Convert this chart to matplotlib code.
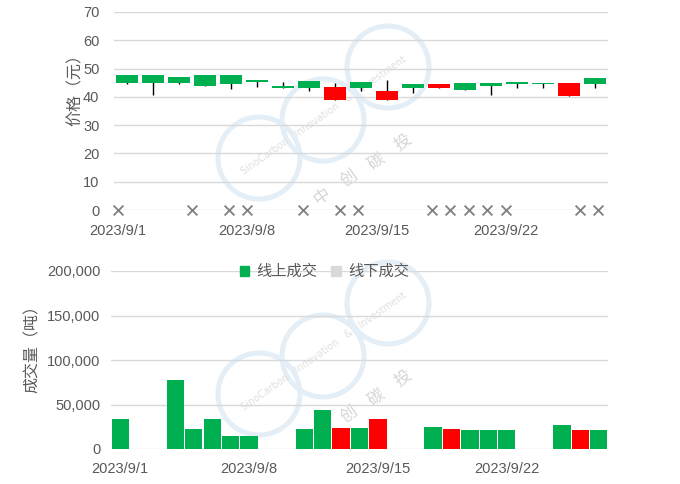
import matplotlib
matplotlib.use('Agg')
import matplotlib.pyplot as plt
import numpy as np
import pandas as pd
from matplotlib.patches import Circle, Patch
from matplotlib.ticker import FuncFormatter, MultipleLocator

plt.rcParams['font.family'] = ['Liberation Sans', 'Noto Sans CJK SC', 'DejaVu Sans']

# ---------------- data ----------------
trade_dates = ['2023-09-01', '2023-09-04', '2023-09-05', '2023-09-06', '2023-09-07',
               '2023-09-08', '2023-09-11', '2023-09-12', '2023-09-13', '2023-09-14',
               '2023-09-15', '2023-09-18', '2023-09-19', '2023-09-20', '2023-09-21',
               '2023-09-22', '2023-09-25', '2023-09-26', '2023-09-27']
open_px = [44.9, 44.9, 44.9, 44.0, 44.4, 45.1, 43.3, 43.2, 43.6, 43.0,
           42.2, 43.0, 44.6, 42.6, 43.7, 44.4, 44.4, 44.9, 44.4]
close_px = [47.7, 47.7, 47.0, 47.7, 47.7, 46.0, 44.0, 45.6, 38.9, 45.3,
            38.9, 44.6, 43.0, 44.9, 44.9, 45.3, 44.9, 40.2, 46.7]
high_px = [47.7, 47.7, 47.0, 47.7, 47.7, 46.0, 45.3, 45.6, 44.9, 45.3,
           46.0, 44.6, 44.6, 44.9, 44.9, 45.3, 44.9, 44.9, 46.7]
low_px = [44.6, 40.6, 44.6, 44.0, 42.9, 43.6, 43.3, 42.2, 38.9, 42.2,
          38.9, 41.3, 43.0, 42.6, 40.6, 43.0, 43.3, 40.2, 43.3]
online_vol = [33700, 77500, 22500, 33700, 14600, 14600, 22500, 43800, 23600, 23600,
              33700, 24700, 22500, 21300, 21300, 21300, 27000, 21300, 21300]
offline_vol = [0] * 19
no_trade_dates = ['2023-09-01', '2023-09-05', '2023-09-07', '2023-09-08', '2023-09-11',
                  '2023-09-13', '2023-09-14', '2023-09-18', '2023-09-19', '2023-09-20',
                  '2023-09-21', '2023-09-22', '2023-09-26', '2023-09-27']
tick_dates = ['2023-09-01', '2023-09-08', '2023-09-15', '2023-09-22']
tick_labels = ['2023/9/1', '2023/9/8', '2023/9/15', '2023/9/22']
start_date = '2023-09-01'
end_date = '2023-09-27'

# ---------------- helpers ----------------
W, H = 680, 484
def fx(px): return px / W
def fy(py): return 1 - py / H

t0 = pd.Timestamp(start_date)
def doff(lst): return np.array([(pd.Timestamp(d) - t0).days for d in lst])

trade_off = doff(trade_dates)
nt_off = doff(no_trade_dates)
tick_off = doff(tick_dates)
n_days = (pd.Timestamp(end_date) - t0).days

GREEN = '#00b050'
RED = '#ff0000'
GRID = '#d9d9d9'
TXT = '#595959'

o = np.array(open_px); c = np.array(close_px)
colors = [RED if cc < oo else GREEN for oo, cc in zip(o, c)]

fig = plt.figure(figsize=(W / 100, H / 100), dpi=100)
fig.patch.set_facecolor('white')

# ---------------- watermark ----------------
def watermark(dy):
    for (cx, cy) in [(259, 158), (323, 120), (388, 67)]:
        circ = Circle((cx / 100, (H - cy - dy) / 100), 0.41, transform=fig.dpi_scale_trans,
                      fill=False, ec='#e4eef7', lw=3.6, zorder=-2)
        fig.patches.append(circ)
    fig.text(fx(324), fy(115 + dy), 'SinoCarbon   Innovation   &   Investment', rotation=35,
             ha='center', va='center', fontsize=7, color='#e0e0e0', zorder=-1,
             family=['DejaVu Sans'])
    for i, ch in enumerate('中创碳投'):
        fig.text(fx(322 + i * 27), fy(197 + dy - i * 18), ch, rotation=35,
                 ha='center', va='center', fontsize=12, color='#d5d5d5', zorder=-1,
                 family=['Noto Sans CJK SC'])

watermark(0)
watermark(236)

# ---------------- top: price ----------------
ax = fig.add_axes([fx(114), fy(210), (608 - 114) / W, (210 - 12) / H])
ax.patch.set_alpha(0)
ax.set_xlim(-0.22, n_days + 0.54)
ax.set_ylim(0, 70)
ax.yaxis.set_major_locator(MultipleLocator(10))
ax.grid(axis='y', color=GRID, lw=1)
ax.set_axisbelow(True)
for s in ax.spines.values():
    s.set_visible(False)
ax.set_xticks(tick_off)
ax.set_xticklabels(tick_labels)
ax.tick_params(axis='both', length=0, labelsize=10.5, labelcolor=TXT)
ax.tick_params(axis='x', pad=10)
ax.tick_params(axis='y', pad=10.5)
ax.scatter(nt_off, np.zeros(len(nt_off)), marker='x', s=50, color='#7f7f7f',
           lw=1.3, clip_on=False, zorder=4)

axc = ax.twiny()
axc.patch.set_alpha(0)
axc.set_xlim(-0.5, len(trade_dates) - 0.5)
axc.set_ylim(0, 70)
for s in axc.spines.values():
    s.set_visible(False)
axc.set_xticks([])
idx = np.arange(len(trade_dates))
axc.vlines(idx, low_px, high_px, color='black', lw=1, zorder=2)
axc.bar(idx, np.abs(c - o), bottom=np.minimum(o, c), width=0.88, color=colors, zorder=3)

fig.text(fx(75), fy(86), '价格（元）', rotation=90, ha='center', va='center',
         fontsize=11.5, color=TXT)

# ---------------- bottom: volume ----------------
ax2 = fig.add_axes([fx(111), fy(449), (608 - 111) / W, (449 - 271) / H])
ax2.patch.set_alpha(0)
ax2.set_xlim(-0.5, n_days + 0.5)
ax2.set_ylim(0, 200000)
ax2.yaxis.set_major_locator(MultipleLocator(50000))
ax2.yaxis.set_major_formatter(FuncFormatter(lambda v, p: f'{int(v):,}'))
ax2.grid(axis='y', color=GRID, lw=1)
ax2.set_axisbelow(True)
for s in ax2.spines.values():
    s.set_visible(False)
ax2.set_xticks(tick_off)
ax2.set_xticklabels(tick_labels)
ax2.tick_params(axis='both', length=0, labelsize=10.5, labelcolor=TXT)
ax2.tick_params(axis='x', pad=9.5)
ax2.tick_params(axis='y', pad=7.5)
ax2.bar(trade_off, online_vol, width=0.94, color=colors, zorder=3)
ax2.bar(trade_off, offline_vol, bottom=online_vol, width=0.94, color=GRID, zorder=3)

fig.text(fx(32), fy(345), '成交量（吨）', rotation=90, ha='center', va='center',
         fontsize=11.5, color=TXT)

handles = [Patch(color=GREEN, label='线上成交'), Patch(color=GRID, label='线下成交')]
fig.legend(handles=handles, loc='center', bbox_to_anchor=(fx(324.5), fy(272)), ncol=2,
           frameon=False, fontsize=11, handlelength=0.6, handleheight=0.6,
           handletextpad=0.5, columnspacing=0.9, labelcolor=TXT)

fig.savefig('out.png', dpi=100, facecolor='white')
